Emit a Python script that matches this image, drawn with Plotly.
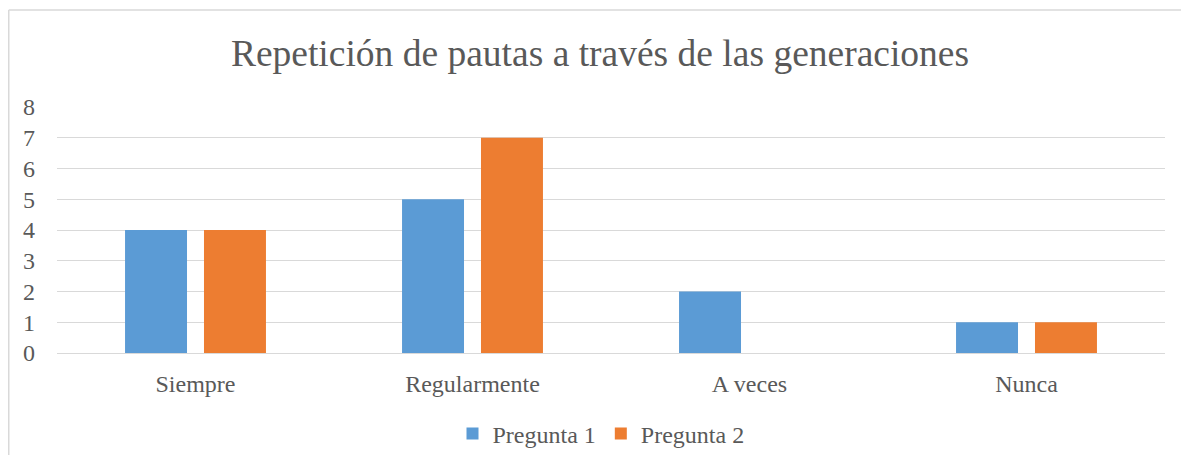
import plotly.graph_objects as go

categories = ["Siempre", "Regularmente", "A veces", "Nunca"]
pregunta1 = [4, 5, 2, 1]
pregunta2 = [4, 7, 0, 1]
series_names = ["Pregunta 1", "Pregunta 2"]
y_ticks = [0, 1, 2, 3, 4, 5, 6, 7, 8]

OFF = 8  # page body margin on each side
W, H = 1189 - 2 * OFF, 463 - 2 * OFF
L, T = 57 - OFF, 107 - OFF
R = W - (1165 - OFF)
B = H - (353 - OFF)
pw, ph = W - L - R, H - T - B

font = "Liberation Serif, Times New Roman, serif"
fig = go.Figure()
fig.add_trace(go.Bar(x=categories, y=pregunta1, name=series_names[0],
                     marker=dict(color="#5b9bd5", line=dict(width=0))))
fig.add_trace(go.Bar(x=categories, y=pregunta2, name=series_names[1],
                     marker=dict(color="#ed7d31", line=dict(width=0))))

def px_x(x):
    return (x - OFF - L) / pw

def px_y(y):
    return (H - B - (y - OFF)) / ph

def cx(x):
    return (x - OFF) / W

def cy(y):
    return 1 - (y - OFF) / H

fig.update_layout(
    width=W, height=H,
    margin=dict(l=L, r=R, t=T, b=B, autoexpand=False),
    paper_bgcolor="white", plot_bgcolor="white",
    barmode="group", bargap=0.43, bargroupgap=0.215,
    font=dict(family=font, color="#595959", size=24),
    title=dict(text="Repetición de pautas a través de las generaciones",
               x=cx(600), xanchor="center", y=cy(53), yanchor="middle",
               font=dict(family=font, size=37.5, color="#595959")),
    xaxis=dict(showgrid=False, showline=False, ticks="", ticklabelstandoff=14, automargin=False,
               tickfont=dict(size=24, color="#595959")),
    yaxis=dict(range=[0, 8], tickvals=y_ticks, showgrid=True, gridcolor="#d9d9d9", gridwidth=1.3,
               zeroline=True, zerolinecolor="#d9d9d9", zerolinewidth=1.3, automargin=False,
               ticks="", ticklabelstandoff=21, tickfont=dict(size=24, color="#595959")),
    legend=dict(orientation="h", xref="container", yref="container",
                x=cx(601), xanchor="center", y=cy(434), yanchor="middle",
                font=dict(size=24, color="#595959"), itemwidth=30, traceorder="normal"),
    showlegend=True,
    shapes=[
        dict(type="line", xref="paper", yref="paper", x0=px_x(OFF + 0.75), x1=px_x(1189), y0=px_y(10), y1=px_y(10),
             line=dict(color="#d9d9d9", width=1.5)),
        dict(type="line", xref="paper", yref="paper", x0=px_x(OFF + 0.75), x1=px_x(OFF + 0.75), y0=px_y(10), y1=px_y(463),
             line=dict(color="#d9d9d9", width=1.5)),
    ],
)
fig.write_html("out.html")
